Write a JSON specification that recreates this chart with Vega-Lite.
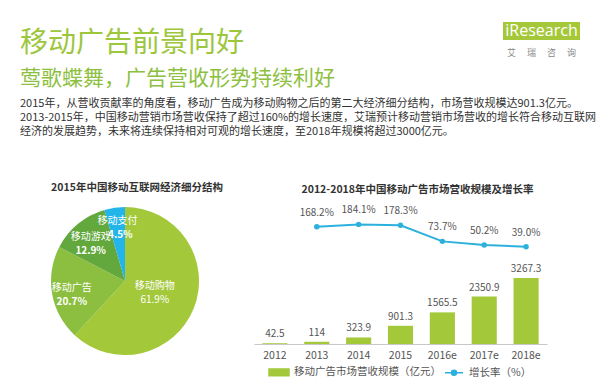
{
  "$schema": "https://vega.github.io/schema/vega-lite/v6.json",
  "background": "white",
  "padding": {"left": 20, "top": 22, "right": 5, "bottom": 2},
  "config": {"view": {"stroke": null}, "font": "Noto Sans CJK SC"},
  "vconcat": [
    {
      "hconcat": [
        {
          "width": 470,
          "height": 1,
          "data": {"values": [{"a": 1}]},
          "mark": {"type": "rect", "opacity": 0},
          "encoding": {},
          "title": {
            "text": "移动广告前景向好",
            "subtitle": "莺歌蝶舞，广告营收形势持续利好",
            "orient": "bottom",
            "anchor": "start",
            "fontSize": 28,
            "fontWeight": "normal",
            "color": "#9cc63c",
            "subtitleFontSize": 21,
            "subtitleColor": "#8dbf40",
            "subtitlePadding": 10,
            "offset": 7
          }
        },
        {
          "width": 77,
          "height": 18,
          "data": {"values": [{"name": "iResearch"}]},
          "layer": [
            {"mark": {"type": "rect", "color": "#a5c83a"}, "encoding": {}},
            {"mark": {"type": "text", "color": "white", "fontSize": 16, "font": "Open Sans"}, "encoding": {"text": {"field": "name"}}}
          ],
          "title": {"text": "艾　 瑞　 咨　 询", "orient": "bottom", "fontSize": 9, "fontWeight": "normal", "color": "#888", "offset": 9}
        }
      ],
      "spacing": 13
    },
    {
      "title": {
        "text": [
          "2015年，从营收贡献率的角度看，移动广告成为移动购物之后的第二大经济细分结构，市场营收规模达901.3亿元。",
          "2013-2015年，中国移动营销市场营收保持了超过160%的增长速度，艾瑞预计移动营销市场营收的增长符合移动互联网",
          "经济的发展趋势，未来将连续保持相对可观的增长速度，至2018年规模将超过3000亿元。"
        ],
        "anchor": "start",
        "fontSize": 11,
        "fontWeight": "normal",
        "color": "#333333",
        "lineHeight": 14,
        "offset": 46
      },
      "hconcat": [
        {
          "width": 210,
          "height": 152,
          "title": {"text": "2015年中国移动互联网经济细分结构", "fontSize": 10.5, "fontWeight": "bold", "color": "#333333", "offset": 12, "dx": 12},
          "data": {
            "values": [
              {"cat": "移动购物", "pct": 61.9, "pctLabel": "61.9%", "ord": 1},
              {"cat": "移动广告", "pct": 20.7, "pctLabel": "20.7%", "ord": 2},
              {"cat": "移动游戏", "pct": 12.9, "pctLabel": "12.9%", "ord": 3},
              {"cat": "移动支付", "pct": 4.5, "pctLabel": "4.5%", "ord": 4}
            ]
          },
          "encoding": {
            "theta": {"field": "pct", "type": "quantitative", "stack": true},
            "order": {"field": "ord", "type": "quantitative"},
            "color": {
              "field": "cat",
              "type": "nominal",
              "scale": {"domain": ["移动购物", "移动广告", "移动游戏", "移动支付"], "range": ["#a3c83a", "#8cbf3f", "#62a83c", "#23b5ea"]},
              "legend": null
            }
          },
          "layer": [
            {"mark": {"type": "arc", "outerRadius": 74}},
            {
              "mark": {"type": "text", "radius": 32, "dy": -7, "fontSize": 10, "color": "white"},
              "encoding": {"text": {"condition": {"test": "datum.cat === '移动购物'", "field": "cat"}, "value": ""}, "color": {"value": "white"}}
            },
            {
              "mark": {"type": "text", "radius": 32, "dy": 7, "fontSize": 10, "color": "white"},
              "encoding": {"text": {"condition": {"test": "datum.cat === '移动购物'", "field": "pctLabel"}, "value": ""}, "color": {"value": "white"}}
            },
            {
              "mark": {"type": "text", "radius": 54, "dy": -2, "fontSize": 10, "color": "white"},
              "encoding": {"text": {"condition": {"test": "datum.cat === '移动广告' || datum.cat === '移动游戏'", "field": "cat"}, "value": ""}, "color": {"value": "white"}}
            },
            {
              "mark": {"type": "text", "radius": 54, "dy": 12, "fontSize": 10, "color": "white", "fontWeight": "bold"},
              "encoding": {"text": {"condition": {"test": "datum.cat === '移动广告' || datum.cat === '移动游戏'", "field": "pctLabel"}, "value": ""}, "color": {"value": "white"}}
            },
            {
              "mark": {"type": "text", "radius": 54, "dy": -7, "fontSize": 10, "color": "white"},
              "encoding": {"text": {"condition": {"test": "datum.cat === '移动支付'", "field": "cat"}, "value": ""}, "color": {"value": "white"}}
            },
            {
              "mark": {"type": "text", "radius": 54, "dy": 7, "dx": 3, "fontSize": 10, "color": "white", "fontWeight": "bold"},
              "encoding": {"text": {"condition": {"test": "datum.cat === '移动支付'", "field": "pctLabel"}, "value": ""}, "color": {"value": "white"}}
            }
          ]
        },
        {
          "width": 293,
          "height": 139,
          "title": {"text": "2012-2018年中国移动广告市场营收规模及增长率", "fontSize": 10.5, "fontWeight": "bold", "color": "#333333", "offset": 10, "dx": 17},
          "data": {
            "values": [
              {"year": "2012", "rev": 42.5, "revLabel": "42.5", "rate": null, "rateLabel": null},
              {"year": "2013", "rev": 114, "revLabel": "114", "rate": 168.2, "rateLabel": "168.2%"},
              {"year": "2014", "rev": 323.9, "revLabel": "323.9", "rate": 184.1, "rateLabel": "184.1%"},
              {"year": "2015", "rev": 901.3, "revLabel": "901.3", "rate": 178.3, "rateLabel": "178.3%"},
              {"year": "2016e", "rev": 1565.5, "revLabel": "1565.5", "rate": 73.7, "rateLabel": "73.7%"},
              {"year": "2017e", "rev": 2350.9, "revLabel": "2350.9", "rate": 50.2, "rateLabel": "50.2%"},
              {"year": "2018e", "rev": 3267.3, "revLabel": "3267.3", "rate": 39.0, "rateLabel": "39.0%"}
            ]
          },
          "encoding": {
            "x": {
              "field": "year",
              "type": "ordinal",
              "sort": null,
              "scale": {"paddingInner": 0.4, "paddingOuter": 0.2},
              "axis": {"title": null, "labelAngle": 0, "domainColor": "#c8c8c8", "domainWidth": 1, "ticks": false, "labelColor": "#555555", "labelFontSize": 10.5, "labelPadding": 6}
            }
          },
          "layer": [
            {
              "mark": {"type": "bar"},
              "encoding": {
                "y": {"field": "rev", "type": "quantitative", "scale": {"domain": [0, 6880]}, "axis": null},
                "color": {
                  "datum": "移动广告市场营收规模（亿元）",
                  "scale": {"domain": ["移动广告市场营收规模（亿元）", "增长率（%）"], "range": ["#a3c93a", "#2cb1dc"]},
                  "legend": {
                    "orient": "bottom",
                    "title": null,
                    "direction": "horizontal",
                    "columnPadding": 1,
                    "labelFontSize": 10.5,
                    "labelColor": "#555555",
                    "symbolSize": 400,
                    "padding": 14,
                    "offset": -14,
                    "encode": {
                      "symbols": {
                        "update": {
                          "shape": {"signal": "datum.value === '增长率（%）' ? 'M-0.9,0H0.9M-0.25,0A0.25,0.25,0,1,0,0.25,0A0.25,0.25,0,1,0,-0.25,0' : 'M-1,-0.33H1V0.33H-1Z'"},
                          "fill": {"signal": "datum.value === '增长率（%）' ? '#2cb1dc' : '#a3c93a'"},
                          "stroke": {"signal": "datum.value === '增长率（%）' ? '#2cb1dc' : '#a3c93a'"},
                          "strokeWidth": {"value": 1.5},
                          "opacity": {"value": 1}
                        }
                      }
                    }
                  }
                }
              }
            },
            {
              "mark": {"type": "text", "dy": -9, "fontSize": 10, "color": "#555555"},
              "encoding": {
                "y": {"field": "rev", "type": "quantitative", "scale": {"domain": [0, 6880]}, "axis": null},
                "text": {"field": "revLabel"}
              }
            },
            {
              "mark": {"type": "line", "strokeWidth": 2, "point": {"filled": true, "size": 30}},
              "encoding": {
                "y": {"field": "rate", "type": "quantitative", "scale": {"domain": [-593, 310]}, "axis": null},
                "color": {"datum": "增长率（%）"}
              }
            },
            {
              "mark": {"type": "text", "dy": -14, "fontSize": 10, "color": "#555555"},
              "encoding": {
                "y": {"field": "rate", "type": "quantitative", "scale": {"domain": [-593, 310]}, "axis": null},
                "text": {"field": "rateLabel"}
              }
            }
          ],
          "resolve": {"scale": {"y": "independent"}}
        }
      ],
      "resolve": {"scale": {"color": "independent"}, "legend": {"color": "independent"}},
      "spacing": 24
    }
  ],
  "spacing": 8
}
